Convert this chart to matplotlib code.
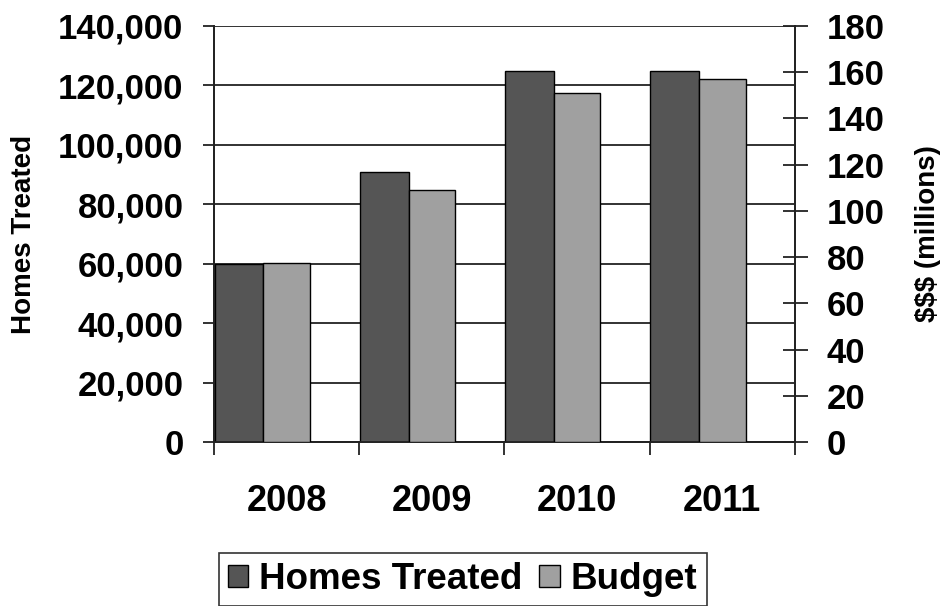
import matplotlib
matplotlib.use("Agg")
import matplotlib.pyplot as plt
import numpy as np
from matplotlib.ticker import FuncFormatter

years = ["2008", "2009", "2010", "2011"]
homes_treated = [60000, 91000, 125000, 125000]
budget_millions = [77.5, 109, 151, 157]
left_ticks = [0, 20000, 40000, 60000, 80000, 100000, 120000, 140000]
right_ticks = [0, 20, 40, 60, 80, 100, 120, 140, 160, 180]

plt.rcParams['font.family'] = ['Liberation Sans', 'DejaVu Sans']
plt.rcParams['font.weight'] = 'bold'
plt.rcParams['axes.labelweight'] = 'bold'

fig = plt.figure(figsize=(9.45, 6.06), dpi=100)
ax = fig.add_axes([214/945, 1-442/606, (795-214)/945, (442-26)/606])
ax2 = ax.twinx()

x = np.arange(len(years))
w = 0.335
dark = '#555555'
light = '#a0a0a0'
ax.bar(x - 0.5 + 0.005, homes_treated, width=w, align='edge', color=dark,
       edgecolor='black', linewidth=1.0, zorder=3, label='Homes Treated')
ax2.bar(x - 0.5 + 0.005 + w, budget_millions, width=0.32, align='edge', color=light,
        edgecolor='black', linewidth=1.0, zorder=3, label='Budget')

ax.set_xlim(-0.5, 3.5)
ax.set_ylim(0, 140000)
ax2.set_ylim(0, 180)
ax.set_yticks(left_ticks)
ax.yaxis.set_major_formatter(FuncFormatter(lambda v, p: f"{int(v):,}"))
ax2.set_yticks(right_ticks)

ax.set_axisbelow(True)
ax.yaxis.grid(True, color='#222222', linewidth=1.3)

ax.set_xticks(x)
ax.set_xticklabels(years)
ax.set_xticks(np.arange(-0.5, 4.0, 1.0), minor=True)
ax.tick_params(axis='x', which='major', length=0, pad=30, labelsize=26)
ax.tick_params(axis='x', which='minor', length=9, width=1.3, direction='out', color='#222222')
ax.tick_params(axis='y', length=8, width=1.3, direction='out', pad=14, labelsize=25, color='#222222')
ax2.tick_params(axis='y', length=18, width=1.3, direction='inout', pad=14, labelsize=25, color='#222222')

for a in (ax, ax2):
    a.spines['top'].set_visible(False)
    for s in ('left', 'right', 'bottom'):
        a.spines[s].set_linewidth(1.3)
        a.spines[s].set_color('#222222')

ax.set_ylabel('Homes Treated', fontsize=20, labelpad=15)
ax2.set_ylabel('$$$ (millions)', fontsize=20, labelpad=22)

h1, l1 = ax.get_legend_handles_labels()
h2, l2 = ax2.get_legend_handles_labels()
leg = fig.legend(h1 + h2, l1 + l2, loc='upper left', bbox_to_anchor=(219/945, 1-553/606),
                 ncol=2, fontsize=26.5, frameon=True, fancybox=False, framealpha=1,
                 edgecolor='#333333', handlelength=0.55, handleheight=0.55,
                 handletextpad=0.3, columnspacing=0.45, borderpad=0.25, borderaxespad=0)
leg.get_frame().set_linewidth(1.2)

fig.savefig('out.png', dpi=100)
